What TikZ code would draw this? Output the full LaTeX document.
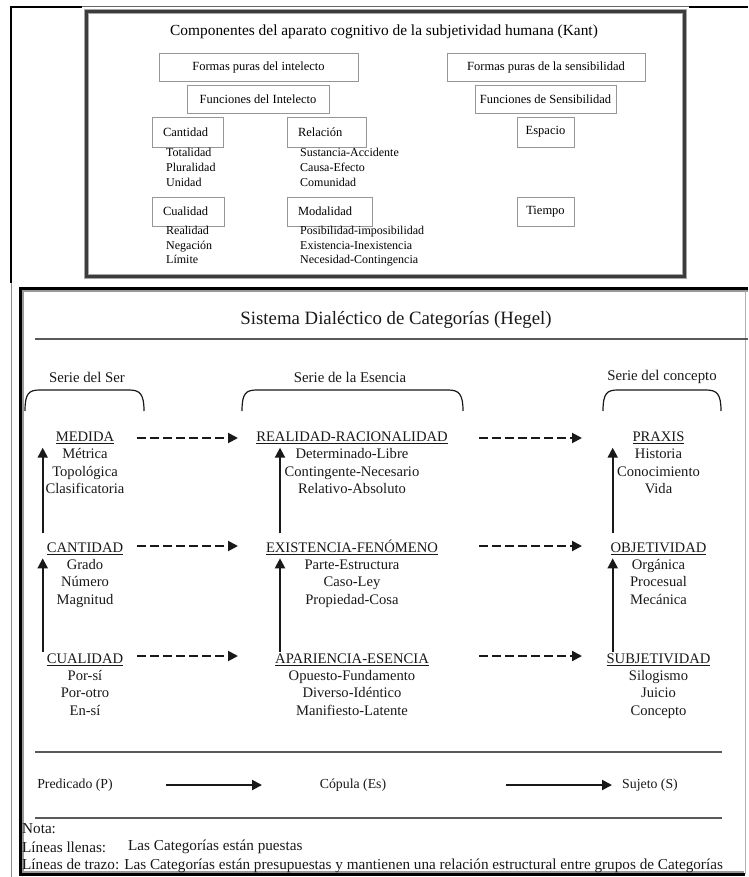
\documentclass[tikz,border=0pt]{standalone}
\usepackage{fontspec}
\setmainfont{Liberation Serif}
\usetikzlibrary{arrows.meta}
\definecolor{boxgray}{RGB}{150,150,150}
\definecolor{framedark}{RGB}{60,60,60}
\definecolor{ink}{RGB}{25,25,25}
\newcommand{\fsz}[2]{\fontsize{#1}{#2}\selectfont}

\begin{document}
\begin{tikzpicture}[x=1pt,y=-1pt,
  kbox/.style={draw=boxgray, line width=0.9pt, inner sep=0pt, minimum height=28pt, font=\fsz{12.5}{14}},
  kleft/.style={kbox, align=left, inner xsep=11pt},
  kitem/.style={anchor=west, inner sep=0pt, font=\fsz{12}{14}, text height=8pt, text depth=2.5pt},
  htext/.style={inner sep=0pt, font=\fsz{14.6}{17}, text=ink, text height=9.5pt, text depth=3pt},
  hlabel/.style={inner sep=0pt, font=\fsz{14.8}{17}, text=ink},
  dasharrow/.style={draw=ink, line width=2pt, dash pattern=on 8.5pt off 4.5pt, -{Triangle[length=10pt,width=10pt]}},
  solidarrow/.style={draw=ink, line width=2pt, -{Triangle[length=10pt,width=10pt]}},
  brace/.style={draw=ink, line width=1.2pt},
  rulerline/.style={draw=black!65, line width=1.3pt},
  notetext/.style={anchor=west, inner sep=0pt, font=\fsz{15.2}{17}, text=ink},
  judge/.style={htext, font=\fsz{13.8}{16}},
]
\useasboundingbox (0,0) rectangle (748,877);
\fill[white] (0,0) rectangle (748,877);

% outer frame
\draw[black, line width=2pt] (11,283) -- (11,7) -- (82,7);
\draw[black!60, line width=1pt] (82,6.2) -- (689,6.2);
\draw[black, line width=2pt] (689,7.3) -- (748,7.3);
\draw[black!45, line width=0.8pt] (11,283) -- (11,877);

% ---------------- Kant ----------------
\draw[black!35, line width=5pt] (86,11.3) rectangle (684.5,276);
\draw[framedark, line width=3pt] (86,11.3) rectangle (684.5,276);

\node[inner sep=0pt, font=\fsz{15.4}{18}] (ktitle) at (384,31.5)
  {Componentes del aparato cognitivo de la subjetividad humana (Kant)};

\node[kbox, minimum width=199pt] (fpi) at (258.5,67) {Formas puras del intelecto};
\node[kbox, minimum width=142pt] (fin) at (258,99) {Funciones del Intelecto};
\node[kleft, text width=49pt, minimum height=30pt] (cant) at (187.5,132) {Cantidad};
\node[kleft, text width=57pt, minimum height=30pt] (rel) at (326.5,132) {Relación};
\node[kleft, text width=50pt, minimum height=29pt] (cual) at (188,211.5) {Cualidad};
\node[kleft, text width=63pt, minimum height=29pt] (moda) at (329.5,211.5) {Modalidad};

\node[kbox, minimum width=198pt] (fps) at (546,67) {Formas puras de la sensibilidad};
\node[kbox, minimum width=141pt] (fse) at (545.5,99) {Funciones de Sensibilidad};
\node[kbox, minimum width=57pt, minimum height=30pt] (esp) at (545.5,132) {Espacio};
\node[kbox, minimum width=57pt, minimum height=29pt] (tie) at (545.5,211.5) {Tiempo};

\node[kitem] (ca1) at (166,153.5) {Totalidad};
\node[kitem] (ca2) at (166,168.5) {Pluralidad};
\node[kitem] (ca3) at (166,183.5) {Unidad};
\node[kitem] (re1) at (300,153.5) {Sustancia-Accidente};
\node[kitem] (re2) at (300,168.5) {Causa-Efecto};
\node[kitem] (re3) at (300,183.5) {Comunidad};
\node[kitem] (cu1) at (166,232) {Realidad};
\node[kitem] (cu2) at (166,246.5) {Negación};
\node[kitem] (cu3) at (166,261) {Límite};
\node[kitem] (mo1) at (300,232) {Posibilidad-imposibilidad};
\node[kitem] (mo2) at (300,246.5) {Existencia-Inexistencia};
\node[kitem] (mo3) at (300,261) {Necesidad-Contingencia};

% ---------------- Hegel ----------------
\draw[black!40, line width=2pt] (23,748) -- (23,291) -- (748,291);
\draw[black!40, line width=2pt] (23,748) -- (23,872) -- (744,872);
\draw[black, line width=3.5pt] (748,288.5) -- (20.5,288.5) -- (20.5,874.5) -- (745,874.5);
\draw[black!30, line width=1pt] (745,291) -- (745,874);

\node[inner sep=0pt, font=\fsz{18.8}{22}, text=ink] (htitle) at (396,320)
  {Sistema Dialéctico de Categorías (Hegel)};
\draw[rulerline] (35,339) -- (748,339);

\node[hlabel] (sser) at (87,377) {Serie del Ser};
\node[hlabel] (sesen) at (350,377) {Serie de la Esencia};
\node[hlabel] (sconc) at (662,377) {Serie del concepto};

\draw[brace] (25,411) .. controls (25,393) and (29,390) .. (40,390) -- (129,390)
  .. controls (140,390) and (144,394) .. (144,411);
\draw[brace] (242,411) .. controls (242,393) and (246,390) .. (257,390) -- (448,390)
  .. controls (459,390) and (463,394) .. (463,411);
\draw[brace] (603,411) .. controls (603,393) and (607,390) .. (618,390) -- (706,390)
  .. controls (717,390) and (721,394) .. (721,411);

% column 1
\node[htext] (medida) at (85,438.3) {\underline{MEDIDA}};
\node[htext] (me1) at (85,455.6) {Métrica};
\node[htext] (me2) at (85,473) {Topológica};
\node[htext] (me3) at (85,490.4) {Clasificatoria};
\node[htext] (cantidad) at (85,549.3) {\underline{CANTIDAD}};
\node[htext] (cn1) at (85,566.3) {Grado};
\node[htext] (cn2) at (85,583.6) {Número};
\node[htext] (cn3) at (85,601.2) {Magnitud};
\node[htext] (cualidad) at (85,660) {\underline{CUALIDAD}};
\node[htext] (cl1) at (85,677) {Por-sí};
\node[htext] (cl2) at (85,694.6) {Por-otro};
\node[htext] (cl3) at (85,712.2) {En-sí};

% column 2
\node[htext] (realidad) at (352,438.3) {\underline{REALIDAD-RACIONALIDAD}};
\node[htext] (rr1) at (352,455.6) {Determinado-Libre};
\node[htext] (rr2) at (352,473) {Contingente-Necesario};
\node[htext] (rr3) at (352,490.4) {Relativo-Absoluto};
\node[htext] (existencia) at (352,549.3) {\underline{EXISTENCIA-FENÓMENO}};
\node[htext] (ef1) at (352,566.3) {Parte-Estructura};
\node[htext] (ef2) at (352,583.6) {Caso-Ley};
\node[htext] (ef3) at (352,601.2) {Propiedad-Cosa};
\node[htext] (apariencia) at (352,660) {\underline{APARIENCIA-ESENCIA}};
\node[htext] (ae1) at (352,677) {Opuesto-Fundamento};
\node[htext] (ae2) at (352,694.6) {Diverso-Idéntico};
\node[htext] (ae3) at (352,712.2) {Manifiesto-Latente};

% column 3
\node[htext] (praxis) at (658.5,438.3) {\underline{PRAXIS}};
\node[htext] (px1) at (658.5,455.6) {Historia};
\node[htext] (px2) at (658.5,473) {Conocimiento};
\node[htext] (px3) at (658.5,490.4) {Vida};
\node[htext] (objetividad) at (658.5,549.3) {\underline{OBJETIVIDAD}};
\node[htext] (ob1) at (658.5,566.3) {Orgánica};
\node[htext] (ob2) at (658.5,583.6) {Procesual};
\node[htext] (ob3) at (658.5,601.2) {Mecánica};
\node[htext] (subjetividad) at (658.5,660) {\underline{SUBJETIVIDAD}};
\node[htext] (sb1) at (658.5,677) {Silogismo};
\node[htext] (sb2) at (658.5,694.6) {Juicio};
\node[htext] (sb3) at (658.5,712.2) {Concepto};

% dashed links between series
\coordinate (d11) at (137,438); \coordinate (d12) at (238,438);
\coordinate (d13) at (479,438); \coordinate (d14) at (582,438);
\coordinate (d21) at (137,546); \coordinate (d22) at (238,546);
\coordinate (d23) at (479,546); \coordinate (d24) at (582,546);
\coordinate (d31) at (137,656); \coordinate (d32) at (238,656);
\coordinate (d33) at (479,656); \coordinate (d34) at (582,656);
\foreach \a/\b in {d11/d12,d13/d14,d21/d22,d23/d24,d31/d32,d33/d34}
  \draw[dasharrow] (\a) -- (\b);

% solid links within each series
\foreach \x/\n in {42.7/a,280/b,612.7/c}{
  \coordinate (\n lo1) at (\x,533.3); \coordinate (\n hi1) at (\x,447.7);
  \coordinate (\n lo2) at (\x,651.7); \coordinate (\n hi2) at (\x,558.3);
  \draw[solidarrow] (\n lo1) -- (\n hi1);
  \draw[solidarrow] (\n lo2) -- (\n hi2);
}

% judgement line
\draw[rulerline] (35,752) -- (722,752);
\draw[rulerline] (35,818) -- (722,818);
\node[judge] (pred) at (75,785) {Predicado (P)};
\node[judge] (copula) at (353,785) {Cópula (Es)};
\node[judge] (sujeto) at (650,785) {Sujeto (S)};
\coordinate (p1) at (166,785); \coordinate (p2) at (262,785);
\coordinate (q1) at (506,785); \coordinate (q2) at (612,785);
\draw[solidarrow] (p1) -- (p2);
\draw[solidarrow] (q1) -- (q2);

% note
\node[notetext] (nota) at (22,829) {Nota:};
\node[notetext] (llenas) at (22,847) {Líneas llenas:};
\node[notetext] (llenasdef) at (128,847) {Las Categorías están puestas};
\node[notetext] (trazo) at (22,865.5) {Líneas de trazo: Las Categorías están presupuestas y mantienen una relación estructural entre grupos de Categorías};
\end{tikzpicture}
\end{document}
